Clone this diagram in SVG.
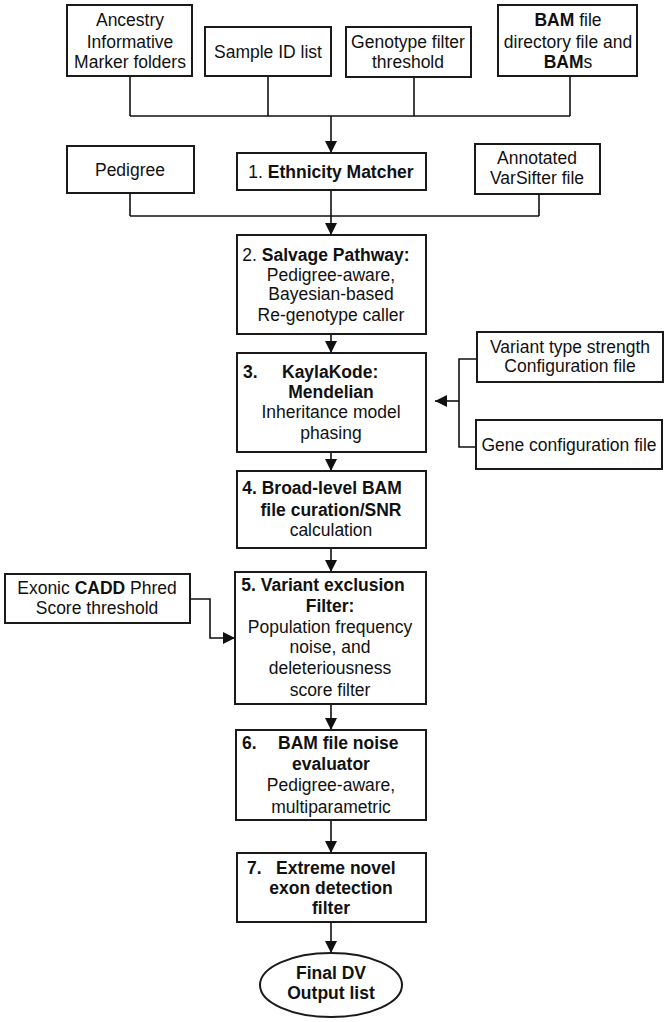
<svg xmlns="http://www.w3.org/2000/svg" width="669" height="1022" viewBox="0 0 669 1022">
<style>
.box{fill:#fff;stroke:#1a1a1a;stroke-width:2}
.ln{fill:none;stroke:#111;stroke-width:1.6}
text{font-family:"Liberation Sans",Arial,sans-serif;font-size:17.5px;fill:#111;text-anchor:middle}
.b{font-weight:bold}
.s{text-anchor:start}
</style>
<defs>
<marker id="ah" markerUnits="userSpaceOnUse" markerWidth="12" markerHeight="12" viewBox="0 0 12 12" refX="12" refY="6" orient="auto">
<path d="M0,0 L12,6 L0,12 Z" fill="#111"/>
</marker>
</defs>
<g id="connectors">
<path class="ln" d="M130,76 V116 M268,76 V116 M414,77 V116 M570,76 V116 M130,116 H570"/>
<path class="ln" d="M331,116 V153" marker-end="url(#ah)"/>
<path class="ln" d="M130,193 V216 M539,194 V216 M130,216 H539"/>
<path class="ln" d="M331,190 V235" marker-end="url(#ah)"/>
<path class="ln" d="M331,334 V353" marker-end="url(#ah)"/>
<path class="ln" d="M477,359 H459 V447 H476"/>
<path class="ln" d="M459,401 H435" marker-end="url(#ah)"/>
<path class="ln" d="M331,452 V471" marker-end="url(#ah)"/>
<path class="ln" d="M331,548 V572" marker-end="url(#ah)"/>
<path class="ln" d="M190,599 H210 V638 H235" marker-end="url(#ah)"/>
<path class="ln" d="M331,704 V730" marker-end="url(#ah)"/>
<path class="ln" d="M331,820 V853" marker-end="url(#ah)"/>
<path class="ln" d="M331,922 V953" marker-end="url(#ah)"/>
</g>
<g id="ancestry">
<rect class="box" x="67" y="5" width="125" height="71"/>
<text x="130" y="26">Ancestry</text>
<text x="130" y="48">Informative</text>
<text x="130" y="68">Marker folders</text>
</g>
<g id="sample">
<rect class="box" x="205" y="27" width="126" height="49"/>
<text x="268" y="58">Sample ID list</text>
</g>
<g id="genotype">
<rect class="box" x="346" y="27" width="125" height="50"/>
<text x="408" y="48">Genotype filter</text>
<text x="408" y="68">threshold</text>
</g>
<g id="bam">
<rect class="box" x="498" y="5" width="139" height="71"/>
<text x="568" y="26"><tspan class="b">BAM</tspan> file</text>
<text x="568" y="48">directory file and</text>
<text x="568" y="68"><tspan class="b">BAM</tspan>s</text>
</g>
<g id="pedigree">
<rect class="box" x="67" y="146" width="127" height="47"/>
<text x="130" y="176">Pedigree</text>
</g>
<g id="step1">
<rect class="box" x="237" y="153" width="189" height="37"/>
<text x="331" y="178">1. <tspan class="b">Ethnicity Matcher</tspan></text>
</g>
<g id="annotated">
<rect class="box" x="475" y="144" width="125" height="50"/>
<text x="537" y="164">Annotated</text>
<text x="537" y="184">VarSifter file</text>
</g>
<g id="step2">
<rect class="box" x="237" y="235" width="189" height="99"/>
<text x="326" y="261">2. <tspan class="b">Salvage Pathway:</tspan></text>
<text x="331" y="281">Pedigree-aware,</text>
<text x="331" y="300">Bayesian-based</text>
<text x="331" y="321">Re-genotype caller</text>
</g>
<g id="variantcfg">
<rect class="box" x="477" y="332" width="186" height="50"/>
<text x="570" y="353">Variant type strength</text>
<text x="570" y="372">Configuration file</text>
</g>
<g id="genecfg">
<rect class="box" x="476" y="420" width="186" height="49"/>
<text x="569" y="451">Gene configuration file</text>
</g>
<g id="step3">
<rect class="box" x="237" y="353" width="189" height="99"/>
<text class="b s" x="243" y="378">3.</text>
<text class="b s" x="282" y="378">KaylaKode:</text>
<text class="b" x="331" y="398">Mendelian</text>
<text x="331" y="418">Inheritance model</text>
<text x="331" y="439">phasing</text>
</g>
<g id="step4">
<rect class="box" x="237" y="471" width="189" height="77"/>
<text class="b" x="322" y="494">4. Broad-level BAM</text>
<text class="b" x="331" y="516">file curation/SNR</text>
<text x="331" y="536">calculation</text>
</g>
<g id="exonic">
<rect class="box" x="5" y="574" width="185" height="49"/>
<text x="97" y="594">Exonic <tspan class="b">CADD</tspan> Phred</text>
<text x="97" y="614">Score threshold</text>
</g>
<g id="step5">
<rect class="box" x="235" y="572" width="191" height="132"/>
<text class="b" x="323" y="591">5. Variant exclusion</text>
<text class="b" x="330" y="612">Filter:</text>
<text x="330" y="633">Population frequency</text>
<text x="330" y="653">noise, and</text>
<text x="330" y="674">deleteriousness</text>
<text x="330" y="696">score filter</text>
</g>
<g id="step6">
<rect class="box" x="236" y="730" width="190" height="90"/>
<text class="b s" x="242" y="749">6.</text>
<text class="b s" x="278" y="749">BAM file noise</text>
<text class="b" x="331" y="770">evaluator</text>
<text x="331" y="791">Pedigree-aware,</text>
<text x="331" y="813">multiparametric</text>
</g>
<g id="step7">
<rect class="box" x="237" y="853" width="189" height="69"/>
<text class="b s" x="247" y="874">7.</text>
<text class="b s" x="276" y="874">Extreme novel</text>
<text class="b" x="331" y="894">exon detection</text>
<text class="b" x="331" y="914">filter</text>
</g>
<g id="final">
<ellipse class="box" cx="331" cy="985" rx="71" ry="32"/>
<text class="b" x="331" y="979">Final DV</text>
<text class="b" x="331" y="999">Output list</text>
</g>
</svg>
